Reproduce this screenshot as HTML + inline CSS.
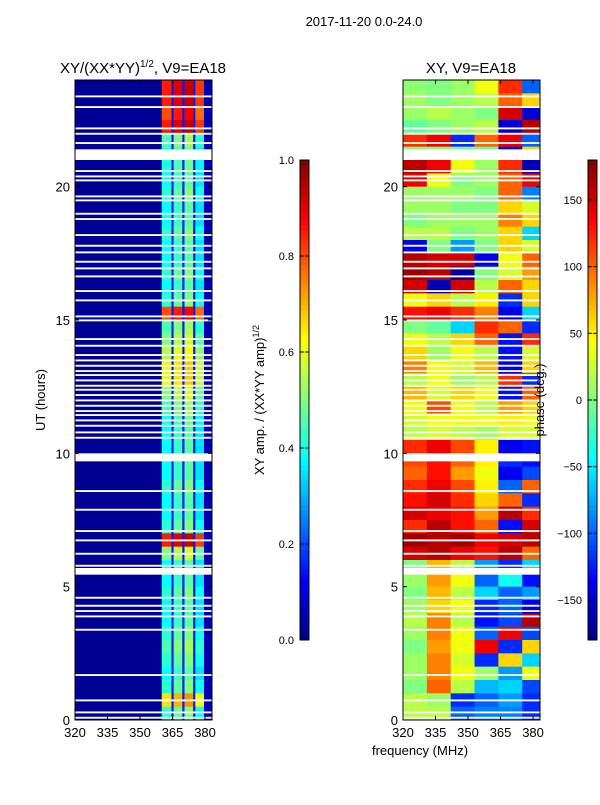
<!DOCTYPE html>
<html><head><meta charset="utf-8"><style>
body{margin:0;background:#fff}
svg text{font-family:"Liberation Sans",sans-serif;fill:#000}
</style></head><body>
<svg id="fig" width="600" height="800" viewBox="0 0 600 800">
<text x="364" y="26" font-size="13" text-anchor="middle">2017-11-20 0.0-24.0</text>
<text x="143" y="73" font-size="15" text-anchor="middle">XY/(XX*YY)<tspan font-size="10" dy="-6">1/2</tspan><tspan dy="6">, V9=EA18</tspan></text>
<text x="471" y="73" font-size="15" text-anchor="middle">XY, V9=EA18</text>
<g id="left"></g>
<g id="right"></g>
<g id="axes"></g>
<text x="45" y="400" font-size="13" text-anchor="middle" transform="rotate(-90 45 400)">UT (hours)</text>
<text x="264" y="400" font-size="13" text-anchor="middle" transform="rotate(-90 264 400)">XY amp. / (XX*YY amp)<tspan font-size="9" dy="-5">1/2</tspan></text>
<text x="544" y="400" font-size="13" text-anchor="middle" transform="rotate(-90 544 400)">phase (deg.)</text>
<text x="420" y="755" font-size="13" text-anchor="middle">frequency (MHz)</text>
</svg>
<script>
// ---- data ----
const timeRows = [23.5,23,22.5,22,21.5,21,20.5,20,19.5,19,18.5,18,17.5,17,16.5,16,15.5,15,14.5,14,13.5,13,12.5,12,11.5,11,10.5,10,9.5,9,8.5,8,7.5,7,6.5,6,5.5,5,4.5,4,3.5,3,2.5,2,1.5,1,0.5,0];
const phaseBins = [320,331,342,353,364,375,383.2];
const phaseValues = [
[5,0,10,40,120,-100],[10,0,10,20,100,60],[10,20,10,0,150,-150],[-10,0,10,20,-150,160],
[120,140,-120,100,140,-100],[0,0,0,-10,-140,60],[160,140,40,10,120,-160],[140,40,0,10,100,140],
[10,10,10,0,100,-90],[10,10,0,0,60,30],[0,10,10,10,90,60],[20,20,0,10,60,-60],
[-140,0,-80,0,60,30],[160,150,150,-140,40,100],[170,160,-170,0,30,80],[150,-160,150,20,100,60],
[40,60,20,50,-120,60],[130,140,120,90,-140,-60],[0,-10,-60,120,100,-120],[40,20,60,100,-130,120],
[60,10,40,20,-130,30],[90,40,30,70,-140,60],[20,40,10,20,120,-120],[70,30,60,40,-130,100],
[40,110,40,20,80,60],[30,40,40,40,50,40],[20,30,20,10,30,30],[120,140,110,50,-140,-130],
[110,130,100,50,-120,-130],[100,130,80,40,-140,-110],[120,140,110,50,-100,100],[130,150,120,60,100,-120],
[150,140,130,80,160,120],[120,160,130,100,-130,150],[170,160,170,140,150,160],[150,160,140,130,160,100],
[0,70,20,-80,-120,-60],[10,80,40,-100,-40,-130],[0,70,20,-60,-100,-80],[10,60,40,-120,-100,-140],
[20,90,20,-130,-110,160],[10,90,40,-100,140,-110],[0,80,40,140,-120,60],[10,90,30,-120,60,-60],
[10,90,40,10,-80,40],[0,100,20,-70,-60,-110],[20,10,-120,-100,-80,-120],[20,20,-100,-90,-90,-120]];
const ampBins = [320,360,364.5,365.5,369.5,370.5,374.5,375.5,379.5,383.2];
const ampBase = [0.02,0,0.15,0,0.15,0,0.15,0,0.05];
const ampRow = [0.85,0.85,0.8,0.85,0.45,0.4,0.4,0.38,0.42,0.38,0.38,0.42,0.38,0.38,0.42,0.38,0.42,0.8,0.45,0.5,
0.55,0.6,0.6,0.5,0.45,0.4,0.38,0.38,0.38,0.38,0.42,0.38,0.38,0.42,0.85,0.5,0.38,0.38,0.42,0.38,0.38,0.42,0.45,0.42,0.38,0.42,0.65,0.42];
const stripeOffset = [0,0.05,0.08,-0.03];
const gapStart = [23.35,22.95,22.15,21.95,21.6,21.0,20.55,20.35,20.2,19.6,19.45,18.95,18.75,18.15,17.75,17.5,17.15,16.9,16.6,16.05,15.7,15.1,14.95,14.25,14.0,13.65,13.45,13.25,13.05,12.9,12.7,12.5,12.35,12.15,11.95,11.75,11.55,11.4,11.2,11.0,10.75,10.55,9.7,8.55,7.85,7.05,6.7,6.2,5.75,5.45,4.55,4.25,4.05,3.85,3.35,1.65,0.7,0.25,0.05];
const gapLen = gapStart.map(s=>s===21.0?0.4:(s===9.7?0.3:(s===5.45?0.25:0.07)));
const yTicks = [0,5,10,15,20];
const xTicks = [320,335,350,365,380];
const ampTicks = [0.0,0.2,0.4,0.6,0.8,1.0];
const phaseTicks = [-150,-100,-50,0,50,100,150];
// ---- scales ----
const NS='http://www.w3.org/2000/svg';
const yT = t => 720 - t*(640/24);
const xL = f => 75 + (f-320)*(137/63.2);
const xR = f => 403 + (f-320)*(137/63.2);
const yAmp = v => 640 - v*480;
const yPh = p => 400 - p*(480/360);
function jet(v){v=Math.max(0,Math.min(1,v));const c=x=>Math.round(255*Math.max(0,Math.min(1,x)));
return `rgb(${c(1.5-Math.abs(4*v-3))},${c(1.5-Math.abs(4*v-2))},${c(1.5-Math.abs(4*v-1))})`;}
function mk(tag,attrs,parent){const e=document.createElementNS(NS,tag);for(const k in attrs)e.setAttribute(k,attrs[k]);parent.appendChild(e);return e;}
const L=document.getElementById('left'),R=document.getElementById('right'),A=document.getElementById('axes');
timeRows.forEach((t,i)=>{
  const y0=yT(t+0.5),h=yT(t)-y0;
  for(let j=0;j<ampBins.length-1;j++){
    let v=ampBase[j];
    if(j%2===1){v=ampRow[i]+stripeOffset[(j-1)/2];}
    const r=mk('rect',{x:xL(ampBins[j]),y:y0,width:xL(ampBins[j+1])-xL(ampBins[j])+0.3,height:h+0.3,fill:jet(v)},L);
    
    
  }
  for(let j=0;j<phaseBins.length-1;j++){
    const p=phaseValues[i][j];
    const r=mk('rect',{x:xR(phaseBins[j]),y:y0,width:xR(phaseBins[j+1])-xR(phaseBins[j])+0.3,height:h+0.3,fill:jet((p+180)/360)},R);
    
    
  }
});
gapStart.forEach((s,i)=>{
  [[L,xL],[R,xR]].forEach(([g,sx])=>{
    const r=mk('rect',{x:sx(320),y:yT(s+gapLen[i]),width:137,height:yT(s)-yT(s+gapLen[i]),fill:'#fff'},g);
    
    
  });
});
[[75,xL],[403,xR]].forEach(([x0,sx],k)=>{
  const f=mk('rect',{x:x0,y:80,width:137,height:640,fill:'none',stroke:'#000','stroke-width':1},A);
  
  
  yTicks.forEach(t=>{
    mk('line',{x1:x0,x2:x0+4,y1:yT(t),y2:yT(t),stroke:'#000'},A);
    mk('line',{x1:x0+133,x2:x0+137,y1:yT(t),y2:yT(t),stroke:'#000'},A);
    const tx=mk('text',{x:x0-5,y:yT(t)+5,'font-size':13,'text-anchor':'end'},A);tx.textContent=t;
    
    
  });
  xTicks.forEach(f2=>{
    mk('line',{x1:sx(f2),x2:sx(f2),y1:716,y2:720,stroke:'#000'},A);
    mk('line',{x1:sx(f2),x2:sx(f2),y1:80,y2:84,stroke:'#000'},A);
    const tx=mk('text',{x:sx(f2),y:737,'font-size':13,'text-anchor':'middle'},A);tx.textContent=f2;
    
    
  });
});
function colorbar(x0,name,ticks,ys,fmt){
  for(let i=0;i<96;i++){const v=i/96;mk('rect',{x:x0,y:640-(i+1)*5,width:9,height:5.3,fill:jet(v+1/192)},A);}
  const f=mk('rect',{x:x0,y:160,width:9,height:480,fill:'none',stroke:'#000'},A);
  
  
  ticks.forEach(t=>{
    mk('line',{x1:x0,x2:x0+4,y1:ys(t),y2:ys(t),stroke:'#000'},A);
    mk('line',{x1:x0+5,x2:x0+9,y1:ys(t),y2:ys(t),stroke:'#000'},A);
    const tx=mk('text',{x:x0-6,y:ys(t)+4,'font-size':11,'text-anchor':'end'},A);tx.textContent=fmt(t);
    
    
  });
}
colorbar(300,'amplitude-colorbar',ampTicks,yAmp,t=>t.toFixed(1));
colorbar(588,'phase-colorbar',phaseTicks,yPh,t=>t<0?'\u2212'+(-t):''+t);
</script>
</body></html>
